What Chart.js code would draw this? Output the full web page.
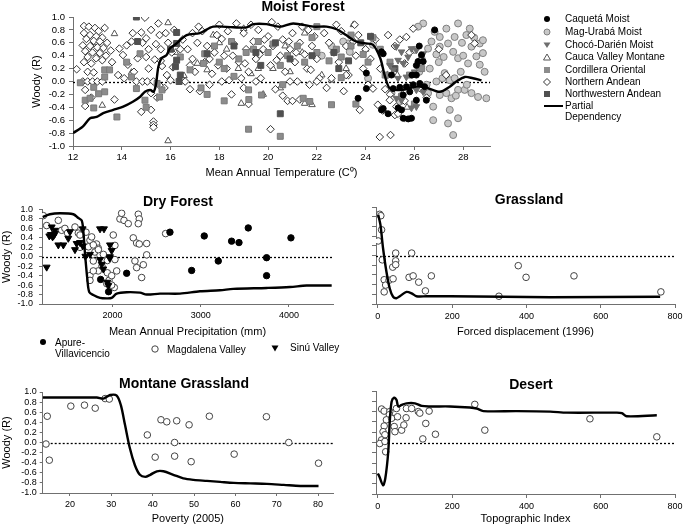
<!DOCTYPE html>
<html>
<head>
<meta charset="utf-8">
<script src="https://cdn.jsdelivr.net/npm/chart.js@4.4.0/dist/chart.umd.min.js"></script>
<style>
body{margin:0;background:#fff;font-family:'Liberation Sans',Arial,sans-serif;}
#wrap{position:relative;width:685px;height:527px;overflow:hidden;background:#fff;}
canvas{position:absolute;}
.ttl{position:absolute;width:220px;text-align:center;font-weight:bold;font-size:14px;line-height:14px;color:#000;}
.lg{position:absolute;font-size:10px;line-height:11px;color:#000;white-space:nowrap;}
.mk{position:absolute;}
</style>
</head>
<body>
<div id="wrap">
  <canvas id="moist" width="500" height="180" style="left:0;top:0"></canvas>
  <canvas id="dry" width="343" height="140" style="left:0;top:199px"></canvas>
  <canvas id="grass" width="340" height="140" style="left:350px;top:199px"></canvas>
  <canvas id="montane" width="343" height="142" style="left:0;top:384px"></canvas>
  <canvas id="desert" width="340" height="143" style="left:350px;top:383px"></canvas>

  <div class="ttl" style="left:193px;top:-1px">Moist Forest</div>
  <div class="ttl" style="left:68px;top:194px">Dry Forest</div>
  <div class="ttl" style="left:419px;top:192px">Grassland</div>
  <div class="ttl" style="left:74px;top:376px">Montane Grassland</div>
  <div class="ttl" style="left:421px;top:377px">Desert</div>

  <!-- moist forest legend -->
  <svg class="mk" style="left:542px;top:14px" width="10" height="10"><circle cx="5" cy="5" r="3" fill="#000"/></svg>
  <div class="lg" style="left:565px;top:13px">Caquetá Moist</div>
  <svg class="mk" style="left:542px;top:27px" width="10" height="10"><circle cx="5" cy="5" r="3" fill="#c8c8c8" stroke="#808080"/></svg>
  <div class="lg" style="left:565px;top:26px">Mag-Urabá Moist</div>
  <svg class="mk" style="left:542px;top:40px" width="10" height="10"><polygon points="1.5,2.5 8.5,2.5 5,8" fill="#6e6e6e"/></svg>
  <div class="lg" style="left:565px;top:39px">Chocó-Darién Moist</div>
  <svg class="mk" style="left:542px;top:52px" width="10" height="10"><polygon points="5,2 8.5,8 1.5,8" fill="#fff" stroke="#555"/></svg>
  <div class="lg" style="left:565px;top:51px">Cauca Valley Montane</div>
  <svg class="mk" style="left:542px;top:65px" width="10" height="10"><rect x="2" y="2" width="6" height="6" fill="#8c8c8c"/></svg>
  <div class="lg" style="left:565px;top:64px">Cordillera Oriental</div>
  <svg class="mk" style="left:542px;top:77px" width="10" height="10"><polygon points="5,1.5 8.5,5 5,8.5 1.5,5" fill="#fff" stroke="#333"/></svg>
  <div class="lg" style="left:565px;top:76px">Northern Andean</div>
  <svg class="mk" style="left:542px;top:89px" width="10" height="10"><rect x="2" y="2" width="6" height="6" fill="#505050"/></svg>
  <div class="lg" style="left:565px;top:88px">Northwestern Andean</div>
  <svg class="mk" style="left:544px;top:101px" width="20" height="10"><line x1="0" y1="5" x2="19" y2="5" stroke="#000" stroke-width="2"/></svg>
  <div class="lg" style="left:565px;top:100px">Partial<br>Dependency</div>

  <!-- dry forest legend -->
  <svg class="mk" style="left:38px;top:337px" width="10" height="10"><circle cx="5" cy="5" r="3" fill="#000"/></svg>
  <div class="lg" style="left:55px;top:337px">Apure-<br>Villavicencio</div>
  <svg class="mk" style="left:150px;top:344px" width="10" height="10"><circle cx="5" cy="5" r="3.2" fill="#fff" stroke="#444"/></svg>
  <div class="lg" style="left:167px;top:344px">Magdalena Valley</div>
  <svg class="mk" style="left:270px;top:343px" width="10" height="10"><polygon points="1.5,2.5 8.5,2.5 5,8.5" fill="#000"/></svg>
  <div class="lg" style="left:290px;top:342px">Sinú Valley</div>
</div>

<script>
// ---- tick labels ----
const woodyTicks = [-1, -0.8, -0.6, -0.4, -0.2, 0, 0.2, 0.4, 0.6, 0.8, 1];
const tempTicks = [12, 14, 16, 18, 20, 22, 24, 26, 28];
const precipTicks = [2000, 3000, 4000];
const displaceTicks = [0, 200, 400, 600, 800];
const povertyTicks = [20, 30, 40, 50, 60, 70, 80];
const topoTicks = [0, 200, 400, 600, 800];

// ---- Moist Forest: mean annual temperature vs woody (R) ----
const tempCurveX = [12, 12.4, 12.7, 12.97, 13.24, 13.65, 14.06, 14.47, 14.74, 14.95, 15.16, 15.3, 15.4, 15.5, 15.63, 15.84, 15.97, 16.18, 16.66, 17.2, 17.75, 18.57, 19.12, 19.39, 19.94, 20.48, 21.03, 21.85, 22.4, 22.81, 23.2, 23.6, 24.0, 24.3, 24.6, 24.8, 25.0, 25.47, 26.08, 26.45, 27.04, 27.45, 27.72, 28.07, 28.4, 28.75];
const tempCurveY = [-0.8, -0.7, -0.57, -0.55, -0.49, -0.44, -0.39, -0.31, -0.24, -0.16, -0.13, -0.16, -0.05, 0.23, 0.36, 0.41, 0.51, 0.57, 0.72, 0.75, 0.85, 0.84, 0.84, 0.89, 0.89, 0.85, 0.9, 0.85, 0.85, 0.81, 0.72, 0.62, 0.59, 0.57, 0.36, 0.07, -0.11, -0.13, -0.08, -0.09, -0.16, -0.08, 0.0, 0.07, 0.05, 0.02];

const caqueta = [[26.83,0.8],[24.72,0.43],[24.65,0.46],[25.06,0.1],[26.08,0.25],[26.08,0.1],[26.29,0.41],[26.36,0.31],[26.15,0.31],[26.22,-0.03],[25.95,-0.05],[25.67,-0.08],[25.4,-0.09],[25.13,-0.11],[25.54,-0.21],[25.81,-0.16],[26.42,-0.08],[26.08,-0.29],[26.49,-0.29],[25.33,-0.41],[24.65,-0.44],[24.72,-0.42],[24.92,-0.5],[25.47,-0.44],[25.54,-0.57],[25.88,-0.57],[25.75,-0.58],[23.69,-0.26],[24.03,-0.11],[24.03,0.13],[26.2,0.55],[25.9,0.1]];
const magUraba = [[26.36,0.9],[26.83,0.77],[27.04,0.69],[27.31,0.82],[27.79,0.9],[27.65,0.69],[28.13,0.72],[28.34,0.54],[28.68,0.59],[28.81,0.44],[28.54,0.39],[27.04,0.54],[27.38,0.59],[27.59,0.46],[26.9,0.42],[27.2,0.38],[27.79,0.36],[28.2,0.28],[28.68,0.26],[28.88,0.15],[26.63,0.2],[27.24,0.13],[26.9,0.0],[27.45,0.02],[27.65,0.05],[27.79,-0.13],[27.31,-0.18],[27.52,-0.26],[27.7,-0.22],[27.04,-0.21],[28.06,-0.13],[28.34,-0.18],[28.61,-0.24],[28.95,-0.26],[26.77,-0.39],[27.45,-0.44],[27.79,-0.57],[27.38,-0.65],[26.77,-0.6],[27.59,-0.83],[26.36,-0.13],[26.56,-0.18],[25.4,-0.31],[25.06,-0.18],[23.35,0.46],[23.28,0.59],[23.08,0.62],[24.3,0.57],[26.15,0.85],[26.01,0.49],[26.56,0.51],[26.3,0.35],[27.0,0.3],[28.81,0.64],[28.27,0.82],[28.45,0.68],[27.95,0.6],[28.0,0.4],[26.7,0.62],[27.15,0.05],[26.2,0.15],[26.5,-0.05],[28.15,-0.05],[27.9,0.15],[22.6,0.55],[22.2,0.4],[24.1,0.05]];
const choco = [[25.26,0.54],[25.47,0.46],[25.74,0.38],[25.88,0.51],[26.08,0.49],[26.36,0.43],[25.33,0.33],[25.55,0.28],[25.13,0.18],[25.33,0.05],[25.67,0.07],[26.01,0.15],[25.81,-0.08],[26.08,-0.13],[25.47,-0.29],[25.88,-0.41],[26.08,-0.39],[25.6,-0.57],[26.36,-0.16],[25.26,-0.26],[25.0,0.25],[26.2,0.3]];
const cauca = [[13.7,0.74],[13.2,-0.37],[14.4,0.14],[15.9,0.91],[15.9,-0.92],[16.55,0.09],[17.5,0.18],[17.1,0.28],[18.3,0.5],[18.9,-0.34],[19.3,0.12],[19.6,0.2],[20.2,0.2],[20.5,-0.1],[20.9,0.15],[21.4,0.45],[21.5,-0.34],[21.8,-0.36],[22.2,0.1],[22.6,0.02],[23.2,0.2],[23.5,0.88],[24.0,0.5],[18.0,0.6],[19.0,0.82],[20.7,0.55],[12.9,0.6],[16.2,0.45],[25.3,0.1],[25.7,-0.4],[21.5,0.75],[17.75,0.72],[18.78,0.2],[19.8,-0.2]];
const cordillera = [[13.3,0.18],[13.5,0.18],[13.3,0.07],[12.85,-0.09],[12.5,-0.29],[12.7,-0.26],[12.85,-0.41],[13.05,-0.19],[13.3,-0.16],[13.8,-0.55],[14.4,0.07],[14.6,-0.11],[14.95,-0.29],[15.0,-0.4],[15.45,-0.03],[15.55,-0.24],[15.65,-0.13],[14.75,0.43],[16.4,0.38],[16.8,0.18],[17.35,0.28],[17.4,0.43],[17.25,-0.1],[14.2,0.3],[12.3,-0.02],[17.8,0.55],[18.0,0.3],[18.2,0.2],[18.5,0.62],[18.6,0.08],[18.8,0.35],[19.1,0.45],[19.2,-0.13],[19.21,-0.28],[19.73,-0.21],[19.4,0.5],[19.6,0.62],[19.2,-0.74],[20.0,0.45],[20.2,0.58],[20.5,0.25],[20.6,-0.05],[20.8,0.4],[21.2,0.55],[21.5,0.3],[21.44,-0.26],[21.71,-0.31],[21.8,0.68],[22.0,0.45],[22.6,-0.36],[22.5,0.32],[22.8,0.5],[23.0,0.38],[23.4,0.55],[23.6,-0.35],[23.9,0.42],[24.1,0.3],[24.3,0.68],[20.5,-0.85],[18.2,-0.3],[17.5,-0.2],[24.6,0.5],[25.0,0.3],[25.47,-0.23],[25.8,0.1],[26.0,-0.35],[26.3,0.2],[24.8,0.1],[23.4,0.72],[22.0,0.85],[23.0,0.06]];
const northernAndean = [[12.45,0.86],[12.65,0.85],[12.9,0.83],[13.3,0.83],[13.05,0.78],[12.45,0.75],[12.7,0.72],[12.95,0.7],[13.2,0.68],[12.55,0.66],[12.85,0.63],[13.1,0.62],[13.4,0.6],[12.4,0.56],[12.7,0.55],[13.0,0.53],[13.25,0.52],[13.55,0.48],[12.5,0.47],[12.8,0.45],[13.1,0.44],[13.35,0.4],[12.6,0.38],[12.95,0.36],[13.2,0.33],[12.45,0.3],[12.75,0.28],[13.6,0.3],[12.15,0.19],[12.6,0.15],[12.85,0.14],[12.4,0],[12.6,0],[12.8,0],[13.0,0],[13.2,0],[12.5,-0.13],[12.75,-0.25],[12.5,-0.38],[13.7,-0.28],[13.9,0.51],[14.05,0.41],[14.25,0.26],[14.2,0.56],[14.45,0.75],[13.85,0.1],[14.1,0.05],
  [14.8,0.76],[14.95,0.99],[14.85,0.6],[15.1,0.5],[14.65,0.36],[15.0,0.38],[15.35,0.34],[15.2,0.8],[15.5,0.9],[15.55,0.72],[15.6,0.5],[15.65,0.24],[15.85,0.1],[15.55,-0.06],[14.6,0],[14.85,0],[15.05,0],[15.3,0],[15.2,-0.18],[14.8,-0.47],[15.2,-0.44],[15.3,-0.62],[15.3,-0.67],[15.3,-0.71],[15.8,0.75],[15.9,0.6],[16.05,0.45],[16.1,0.22],[15.1,0.2],[14.5,0.15],[15.45,-0.25],[15.75,-0.1],[14.4,0.62],[15.0,0.67],[15.4,0.58],[16.15,0.8],[16.0,0.02],[15.6,0.32],
  [16.5,0.65],[16.7,0.5],[16.9,0.35],[17.1,0.6],[17.0,0.15],[16.6,0.0],[17.3,0.78],[17.5,0.55],[17.4,0.3],[17.7,0.12],[17.8,0.45],[17.6,-0.05],[18.0,0.88],[18.1,0.66],[18.2,0.4],[18.3,0.2],[18.4,0.02],[18.7,0.9],[18.6,0.58],[18.8,0.3],[18.5,-0.2],[19.0,0.75],[19.1,0.5],[19.2,0.15],[19.0,-0.1],[19.4,0.62],[19.5,0.35],[19.6,0.8],[19.7,0.05],[19.8,0.5],[20.0,0.7],[20.1,0.25],[20.2,0.55],[20.3,-0.12],[20.4,0.85],[20.5,0.4],[20.6,0.65],[20.7,0.15],[20.8,-0.3],[20.9,0.5],[21.0,0.75],[21.1,0.3],[21.2,0.0],[21.3,0.6],[21.4,0.85],[21.5,0.42],[21.6,0.2],[21.7,-0.05],[21.8,0.55],[21.9,0.7],[22.0,0.35],[20.1,-0.74],[20.15,0.92],[17.2,-0.15],[18.9,0.05],[21.0,-0.3],[21.3,-0.28],[16.8,0.25],[17.9,0.72],[19.3,0.88],[22.1,0.05],[17.15,0.85],[16.9,0.75],[18.35,0.78],[19.85,0.65],[20.85,0.62],[21.65,0.8],[18.55,0.4],[19.65,0.42],[17.6,0.35],[20.35,0.33],[21.15,0.45],[18.1,0.0],[19.5,0.0],[20.9,0.0],[22.0,0.0],[16.8,-0.12],[19.2,-0.35],[20.6,-0.22],[21.75,0.18],[17.95,0.25],[19.05,0.28],[16.4,0.5],
  [22.3,0.75],[22.5,0.6],[22.7,0.45],[22.9,0.3],[23.0,0.78],[23.2,0.55],[23.3,0.1],[23.55,0.88],[23.5,0.62],[23.6,0.4],[23.7,0.72],[23.9,0.2],[24.0,0.5],[24.2,0.35],[22.6,0.05],[22.4,-0.1],[24.1,-0.05],[23.76,-0.44],[22.8,0.88],[24.4,0.65],[23.1,-0.15],[24.24,0.69],[23.2,0.1],[24.3,-0.11],[24.5,-0.36],
  [24.92,0.72],[24.6,0.2],[24.8,-0.12],[25.0,-0.2],[25.2,0.55],[25.4,0.65],[25.6,-0.3],[24.7,-0.45],[25.2,-0.52],[24.58,-0.86],[25.02,-0.83],[25.8,0.45],[26.2,-0.1],[27.0,0.5],[27.3,0.1],[24.9,0.1],[25.5,-0.2],[26.5,-0.25],[25.67,0.69],[25.6,0.28],[25.95,0.82],[28.34,0.72],[28.47,0.59],[24.99,-0.29],[25.26,-0.39],[25.33,-0.5]];
const nwAndean = [[14.6,1.0],[14.65,0.62],[16.25,0.76],[16.25,0.59],[16.25,0.33],[16.2,0.23],[16.35,0.0],[17.5,0.43],[16.0,0.5],[18.6,0.55],[19.5,0.45],[20.3,0.6],[20.9,0.35],[22.7,0.45],[23.3,0.32],[23.8,0.6],[24.2,0.7],[25.2,0.2],[19.7,0.25],[21.8,0.4],[22.9,0.2],[20.5,-0.5],[16.4,0.1]];

// ---- Dry Forest: precipitation ----
const precipCurveX = [1208, 1290, 1404, 1555, 1612, 1650, 1668, 1687, 1714, 1736, 1782, 1858, 1934, 1990, 2047, 2160, 2311, 2387, 2538, 2765, 2991, 3218, 3369, 3747, 4012, 4201, 4485];
const precipCurveY = [0.84, 0.9, 0.92, 0.9, 0.82, 0.77, 0.56, 0.08, -0.47, -0.75, -0.81, -0.87, -0.88, -0.87, -0.78, -0.75, -0.76, -0.8, -0.78, -0.78, -0.73, -0.71, -0.68, -0.66, -0.64, -0.61, -0.61];
const apure = [[2651,0.52],[3040,0.44],[3350,0.33],[3434,0.3],[3539,0.61],[4023,0.4],[3199,-0.09],[2897,-0.29],[3747,-0.02],[3747,-0.4],[2160,-0.35],[1865,-0.48],[1955,-0.74]];
const magdalena = [[1215,0.87],[1253,0.66],[1385,0.77],[1423,0.56],[1460,0.6],[1490,0.5],[1574,0.63],[1612,0.5],[1631,0.46],[1631,0.2],[1699,0.52],[1744,0.35],[1727,0.21],[1744,-0.4],[1744,-0.5],[1782,-0.09],[1800,0.1],[1819,0.27],[1838,0.18],[1858,0.03],[1838,-0.3],[1880,-0.2],[1941,-0.08],[1941,-0.34],[1960,-0.5],[1990,-0.4],[2008,0.46],[2027,0.24],[2047,-0.3],[2020,-0.65],[1990,-0.6],[2084,0.8],[2103,0.92],[2130,0.77],[2178,0.7],[2235,0.4],[2273,0.29],[2254,-0.09],[2273,-0.23],[2292,0.9],[2303,0.8],[2292,0.7],[2303,0.27],[2387,0.28],[2387,0.04],[2349,-0.17],[2330,-0.44],[2602,0.49],[1763,0.42],[1782,0.25],[1839,0.15],[1896,0.05],[1782,-0.3],[1934,-0.57],[2027,-0.06]];
const sinu = [[1253,-0.22],[1283,0.44],[1300,0.47],[1310,0.63],[1347,0.56],[1330,0.44],[1320,0.42],[1347,0.49],[1385,0.25],[1442,0.25],[1517,0.53],[1498,0.39],[1574,0.15],[1593,0.28],[1631,0.3],[1662,0.23],[1661,0.59],[1692,0.01],[1744,0.05],[1858,0.59],[1903,0.59],[1858,-0.06],[1877,-0.16],[1895,-0.26],[1971,0.25],[1990,0.13],[1971,0.0],[1968,-0.03],[1941,-0.54],[1952,-0.61]];

// ---- Grassland: forced displacement ----
const displaceCurveX = [1, 7, 14, 23, 32, 41, 50, 59, 77, 91, 104, 131, 194, 338, 464, 760];
const displaceCurveY = [0.84, 0.63, 0.15, -0.33, -0.68, -0.85, -0.88, -0.84, -0.75, -0.78, -0.84, -0.84, -0.84, -0.85, -0.86, -0.85];
const grassPts = [[5,0.85],[8,0.82],[10,0.53],[1,0.3],[12,-0.09],[17,-0.5],[21,-0.61],[17,-0.75],[30,-0.51],[41,-0.48],[40,-0.24],[48,0.05],[48,-0.11],[48,-0.19],[84,-0.45],[95,-0.42],[91,0.05],[110,-0.55],[128,-0.73],[144,-0.42],[326,-0.84],[378,-0.21],[399,-0.45],[528,-0.42],[762,-0.75]];

// ---- Montane Grassland: poverty ----
const povertyCurveX = [13.4, 26.5, 28.1, 29.7, 31.3, 32.3, 33.3, 34.5, 35.7, 36.9, 38.2, 39.4, 41.0, 42.6, 45.0, 47.4, 49.9, 53.1, 56.3, 59.6, 63.6, 67.6, 71.7, 75.7, 80.1];
const povertyCurveY = [0.89, 0.89, 0.87, 0.94, 0.93, 0.74, 0.35, -0.12, -0.45, -0.64, -0.68, -0.64, -0.57, -0.57, -0.64, -0.71, -0.74, -0.76, -0.78, -0.8, -0.81, -0.82, -0.84, -0.86, -0.86];
const povertyPts = [[14.5,0.52],[14.2,-0.03],[15.0,-0.35],[20.2,0.72],[23.5,0.74],[26.1,0.68],[28.5,0.87],[29.5,0.86],[38.7,0.15],[40.6,-0.29],[42.0,0.45],[43.4,0.41],[45.8,0.43],[45.3,0.0],[45.3,-0.27],[48.8,0.35],[49.3,-0.38],[53.7,0.52],[59.7,-0.23],[67.5,0.51],[72.9,0.0],[80.1,-0.41]];

// ---- Desert: topographic index ----
const topoCurveX = [0, 4, 14, 20, 28, 32, 37, 44, 50, 55, 64, 77, 100, 118, 140, 194, 248, 266, 284, 374, 464, 509, 643, 657, 670, 751];
const topoCurveY = [-0.6, -0.66, -0.83, -0.7, -0.18, 0.4, 0.79, 0.87, 0.83, 0.7, 0.73, 0.76, 0.76, 0.71, 0.7, 0.7, 0.68, 0.66, 0.61, 0.61, 0.6, 0.58, 0.58, 0.57, 0.51, 0.53];
const topoPts = [[10,0.65],[17,0.61],[32,0.6],[31,0.54],[23,0.44],[17,0.32],[14,0.21],[19,0.15],[10,0.05],[5,-0.02],[19,0.02],[21,-0.18],[37,0.47],[44,0.31],[46,0.21],[53,0.5],[50,0.66],[64,0.24],[70,0.34],[76,0.48],[77,0.66],[91,0.66],[109,0.6],[113,0.57],[129,0.37],[121,0.07],[138,0.61],[155,0.16],[261,0.74],[288,0.24],[571,0.46],[751,0.11]];

Chart.defaults.font.family = "'Liberation Sans', Arial, sans-serif";
Chart.defaults.color = "#000";

const AXIS = "#707070";

// dotted line at Woody = 0
const zeroLine = {
    id: "zeroLine",
    beforeDatasetsDraw(chart) {
        const {ctx, chartArea, scales} = chart;
        const y = Math.round(scales.y.getPixelForValue(0)) + 0.5;
        ctx.save();
        ctx.strokeStyle = "#000";
        ctx.lineWidth = 1.3;
        ctx.setLineDash([2, 2]);
        ctx.beginPath();
        ctx.moveTo(chartArea.left, y);
        ctx.lineTo(chartArea.right, y);
        ctx.stroke();
        ctx.restore();
    }
};

function toXY(pts) {
    return pts.map(p => ({x: p[0], y: p[1]}));
}

function curve(xs, ys) {
    return {
        label: "Partial Dependency",
        data: xs.map((x, i) => ({x: x, y: ys[i]})),
        showLine: true,
        borderColor: "#000",
        borderWidth: 2.4,
        pointRadius: 0,
        tension: 0.3
    };
}

function openCircles(label, pts) {
    return {label: label, data: toXY(pts), pointStyle: "circle", pointRadius: 3.3,
        backgroundColor: "#fff", borderColor: "#444", borderWidth: 1};
}

/**
 * build one panel
 * @param {string} id canvas id
 * @param {Object} o panel settings
 */
function panel(id, o) {
    return new Chart(document.getElementById(id), {
        type: "scatter",
        data: {datasets: o.datasets},
        options: {
            responsive: false,
            animation: false,
            layout: {padding: {left: 0, top: o.padTop, right: o.padRight, bottom: 0}},
            plugins: {legend: {display: false}, tooltip: {enabled: false}},
            scales: {
                x: {
                    type: "linear",
                    min: o.xMin,
                    max: o.xMax,
                    afterBuildTicks: s => { s.ticks = o.xTicks.map(v => ({value: v})); },
                    afterFit: s => { s.height = o.xHeight; },
                    ticks: {font: {size: o.tickSize}, padding: o.xPad, autoSkip: false, maxRotation: 0,
                        callback: v => String(v)},
                    grid: {drawOnChartArea: false, tickLength: o.tickLen, color: AXIS},
                    border: {color: AXIS},
                    title: {display: true, text: o.xTitle, font: {size: 11}, padding: {top: 0, bottom: 0}}
                },
                y: {
                    min: -1,
                    max: 1,
                    afterBuildTicks: s => { s.ticks = woodyTicks.map(v => ({value: v})); },
                    afterFit: s => { s.width = o.yWidth; },
                    ticks: {display: o.yLabels, font: {size: o.tickSize, lineHeight: 1}, padding: o.yPad,
                        autoSkip: false, callback: v => v.toFixed(1)},
                    grid: {drawOnChartArea: false, tickLength: o.tickLen, color: AXIS},
                    border: {color: AXIS},
                    title: {display: o.yLabels, text: "Woody (R)", font: {size: 11},
                        padding: {top: o.yTitlePad, bottom: 0}}
                }
            }
        },
        plugins: [zeroLine]
    });
}

panel("moist", {
    datasets: [
        curve(tempCurveX, tempCurveY),
        {label: "Caquetá Moist", data: toXY(caqueta), pointStyle: "circle", pointRadius: 3,
            backgroundColor: "#000", borderColor: "#000"},
        {label: "Chocó-Darién Moist", data: toXY(choco), pointStyle: "triangle", rotation: 180, pointRadius: 3.8,
            backgroundColor: "#6e6e6e", borderColor: "#6e6e6e"},
        {label: "Northwestern Andean", data: toXY(nwAndean), pointStyle: "rect", pointRadius: 4.2,
            backgroundColor: "#505050", borderColor: "#505050"},
        {label: "Cordillera Oriental", data: toXY(cordillera), pointStyle: "rect", pointRadius: 4.2,
            backgroundColor: "#8c8c8c", borderColor: "#7a7a7a"},
        {label: "Northern Andean", data: toXY(northernAndean), pointStyle: "rectRot", pointRadius: 3.8,
            backgroundColor: "#fff", borderColor: "#333", borderWidth: 1},
        {label: "Cauca Valley Montane", data: toXY(cauca), pointStyle: "triangle", pointRadius: 3.8,
            backgroundColor: "#fff", borderColor: "#555", borderWidth: 1},
        {label: "Mag-Urabá Moist", data: toXY(magUraba), pointStyle: "circle", pointRadius: 3.5,
            backgroundColor: "#c8c8c8", borderColor: "#808080", borderWidth: 1}
    ],
    xMin: 12, xMax: 29.1, xTicks: tempTicks, xTitle: "Mean Annual Temperature (C\u2070)",
    padTop: 17, padRight: 10, xHeight: 34, yWidth: 73, yLabels: true, yTitlePad: 30,
    tickSize: 9.5, tickLen: 4, xPad: 2, yPad: 4
});

panel("dry", {
    datasets: [
        curve(precipCurveX, precipCurveY),
        {label: "Apure-Villavicencio", data: toXY(apure), pointStyle: "circle", pointRadius: 3.2,
            backgroundColor: "#000", borderColor: "#000"},
        {label: "Sinú Valley", data: toXY(sinu), pointStyle: "triangle", rotation: 180, pointRadius: 4,
            backgroundColor: "#000", borderColor: "#000"},
        openCircles("Magdalena Valley", magdalena)
    ],
    xMin: 1200, xMax: 4500, xTicks: precipTicks, xTitle: "Mean Annual Precipitation (mm)",
    padTop: 8, padRight: 10, xHeight: 35, yWidth: 42, yLabels: true, yTitlePad: 0.5,
    tickSize: 9, tickLen: 3, xPad: 3, yPad: 6
});

panel("grass", {
    datasets: [curve(displaceCurveX, displaceCurveY), openCircles("Grassland", grassPts)],
    xMin: -5, xMax: 800, xTicks: displaceTicks, xTitle: "Forced displacement (1996)",
    padTop: 8, padRight: 15, xHeight: 35, yWidth: 26, yLabels: false, yTitlePad: 0,
    tickSize: 9, tickLen: 4, xPad: 3, yPad: 3
});

panel("montane", {
    datasets: [curve(povertyCurveX, povertyCurveY), openCircles("Montane Grassland", povertyPts)],
    xMin: 13.4, xMax: 83.6, xTicks: povertyTicks, xTitle: "Poverty (2005)",
    padTop: 8, padRight: 10, xHeight: 33, yWidth: 42.7, yLabels: true, yTitlePad: 0.5,
    tickSize: 9, tickLen: 3, xPad: 3, yPad: 3
});

panel("desert", {
    datasets: [curve(topoCurveX, topoCurveY), openCircles("Desert", topoPts)],
    xMin: -5, xMax: 800, xTicks: topoTicks, xTitle: "Topographic Index",
    padTop: 8, padRight: 15, xHeight: 32, yWidth: 26, yLabels: false, yTitlePad: 0,
    tickSize: 9, tickLen: 4, xPad: 3, yPad: 3
});
</script>
</body>
</html>
